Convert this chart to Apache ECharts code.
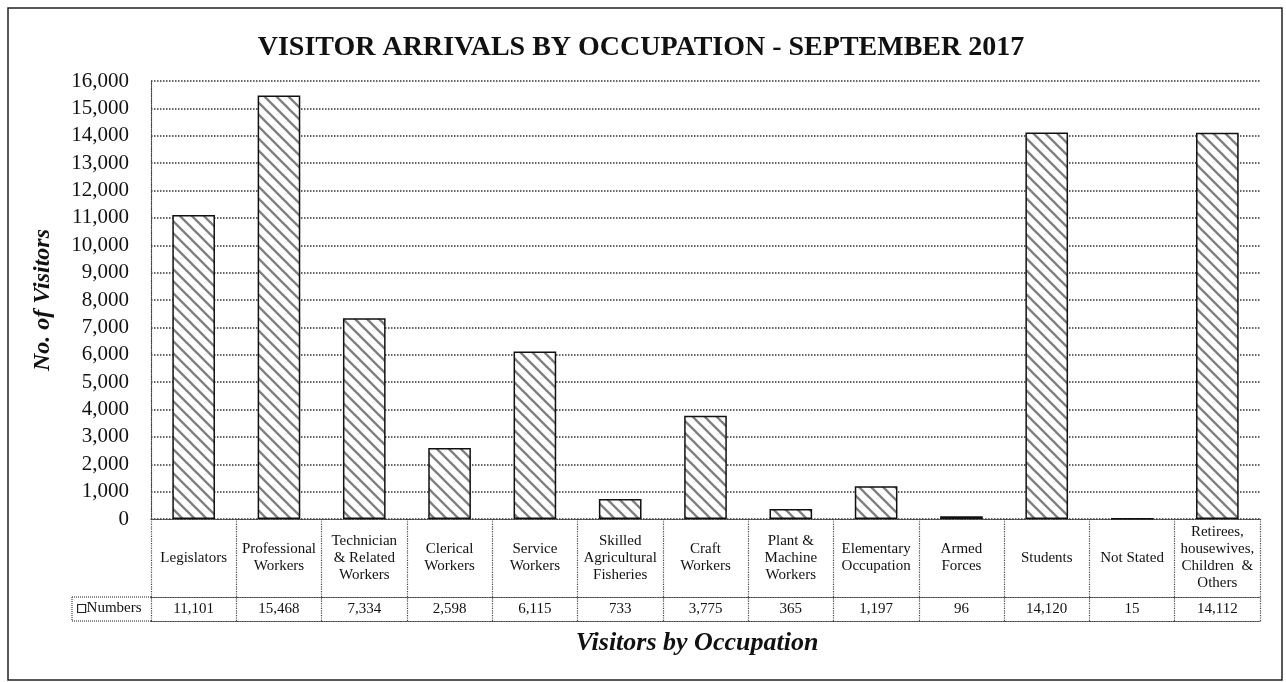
<!DOCTYPE html>
<html>
<head>
<meta charset="utf-8">
<script src="https://cdn.jsdelivr.net/npm/echarts@6/dist/echarts.min.js"></script>
<style>
  html, body { margin: 0; padding: 0; background: #fff; }
  #chart { width: 1286px; height: 682px; }
</style>
</head>
<body>
<div id="chart"></div>
<script>
// data (table row gives the exact numbers)
var occupations = [
  "Legislators",
  "Professional\nWorkers",
  "Technician\n& Related\nWorkers",
  "Clerical\nWorkers",
  "Service\nWorkers",
  "Skilled\nAgricultural\nFisheries",
  "Craft\nWorkers",
  "Plant &\nMachine\nWorkers",
  "Elementary\nOccupation",
  "Armed\nForces",
  "Students",
  "Not Stated",
  "Retirees,\nhousewives,\nChildren  &\nOthers"
];
var numbers = [11101, 15468, 7334, 2598, 6115, 733, 3775, 365, 1197, 96, 14120, 15, 14112];

var FONT = "'Liberation Serif', 'Times New Roman', serif";
var dotted = { color: "#444", width: 1.2, type: "dotted" };

function fmt(v) {
  return String(v).replace(/\B(?=(\d{3})+(?!\d))/g, ",");
}

// hatch pattern "\\\\" for the bars
function hatch() {
  var s = 12;
  var c = document.createElement("canvas");
  c.width = s; c.height = s;
  var ctx = c.getContext("2d");
  ctx.fillStyle = "#fff";
  ctx.fillRect(0, 0, s, s);
  ctx.strokeStyle = "#808080";
  ctx.lineWidth = 2.3;
  ctx.beginPath();
  ctx.moveTo(-1, -1); ctx.lineTo(s + 1, s + 1);
  ctx.moveTo(-1, s - 1); ctx.lineTo(1, s + 1);
  ctx.moveTo(s - 1, -1); ctx.lineTo(s + 1, 1);
  ctx.stroke();
  return c;
}

var myChart = echarts.init(document.getElementById("chart"));

var gridLeft = 151, gridRight = 26, gridTop = 81, gridBottom = 163;
var axisY = 682 - gridBottom;
var cellLeft = 72;

var option = {
  backgroundColor: "#fff",
  animation: false,
  textStyle: { fontFamily: FONT, color: "#111" },
  title: [
    {
      text: "VISITOR ARRIVALS BY OCCUPATION - SEPTEMBER 2017",
      left: 636, top: 29, textAlign: "center",
      textStyle: { fontFamily: FONT, fontSize: 28, fontWeight: "bold", color: "#111" }
    },
    {
      text: "Visitors by Occupation",
      left: 692, top: 625, textAlign: "center",
      textStyle: { fontFamily: FONT, fontSize: 26, fontWeight: "bold", fontStyle: "italic", color: "#111" }
    }
  ],
  legend: {
    left: cellLeft + 5, top: axisY + 82, padding: 0,
    icon: "rect", itemWidth: 8, itemHeight: 8, itemGap: 2,
    textStyle: { fontFamily: FONT, fontSize: 15, color: "#111", padding: [0, 0, 0, -4] },
    data: [{ name: "Numbers", itemStyle: { color: "#fff", borderColor: "#222", borderWidth: 1.2 } }]
  },
  grid: { left: gridLeft, right: gridRight, top: gridTop, bottom: gridBottom, containLabel: false },
  xAxis: [
    {
      type: "category",
      data: occupations,
      position: "bottom",
      axisLine: { show: true, lineStyle: dotted },
      axisTick: { show: true, length: 102, alignWithLabel: false, lineStyle: dotted },
      axisLabel: {
        interval: 0, margin: 39, verticalAlign: "middle",
        fontFamily: FONT, fontSize: 15, lineHeight: 17, color: "#111", align: "center"
      }
    },
    {
      type: "category",
      data: occupations,
      position: "bottom",
      offset: 78,
      axisLine: { show: true, lineStyle: dotted },
      axisTick: { show: false },
      axisLabel: {
        interval: 0, margin: 12, verticalAlign: "middle",
        fontFamily: FONT, fontSize: 15, color: "#111",
        formatter: function (v, i) { return fmt(numbers[i]); }
      }
    },
    {
      type: "category",
      data: occupations,
      position: "bottom",
      offset: 102,
      axisLine: { show: true, lineStyle: dotted },
      axisTick: { show: false },
      axisLabel: { show: false }
    }
  ],
  yAxis: {
    type: "value",
    min: 0, max: 16000, interval: 1000,
    name: "No. of Visitors",
    nameLocation: "middle",
    nameGap: 96,
    nameTextStyle: { fontFamily: FONT, fontSize: 24, fontWeight: "bold", fontStyle: "italic", color: "#111" },
    axisLine: { show: true, lineStyle: dotted },
    axisTick: { show: false },
    axisLabel: {
      margin: 22, fontFamily: FONT, fontSize: 21, color: "#111",
      formatter: function (v) { return fmt(v); }
    },
    splitLine: { show: true, lineStyle: { color: "#333", width: 1.5, type: "dotted" } }
  },
  series: [
    {
      name: "Numbers",
      type: "bar",
      data: numbers,
      barWidth: "50%",
      itemStyle: {
        color: { image: hatch(), repeat: "repeat" },
        borderColor: "#111",
        borderWidth: 1.5
      }
    }
  ],
  graphic: [
    // outer frame of the picture
    { type: "rect", shape: { x: 8, y: 8, width: 1274, height: 672 }, style: { fill: null, stroke: "#222", lineWidth: 1.5 }, silent: true },
    // left cell of the data table
    { type: "line", shape: { x1: cellLeft, y1: axisY + 78, x2: gridLeft, y2: axisY + 78 }, style: { stroke: "#444", lineWidth: 1.2, lineDash: [1, 1] }, silent: true },
    { type: "line", shape: { x1: cellLeft, y1: axisY + 102, x2: gridLeft, y2: axisY + 102 }, style: { stroke: "#444", lineWidth: 1.2, lineDash: [1, 1] }, silent: true },
    { type: "line", shape: { x1: cellLeft, y1: axisY + 78, x2: cellLeft, y2: axisY + 102 }, style: { stroke: "#444", lineWidth: 1.2, lineDash: [1, 1] }, silent: true }
  ]
};

myChart.setOption(option);
window.addEventListener("resize", function () {
  myChart.resize();
});
</script>
</body>
</html>
